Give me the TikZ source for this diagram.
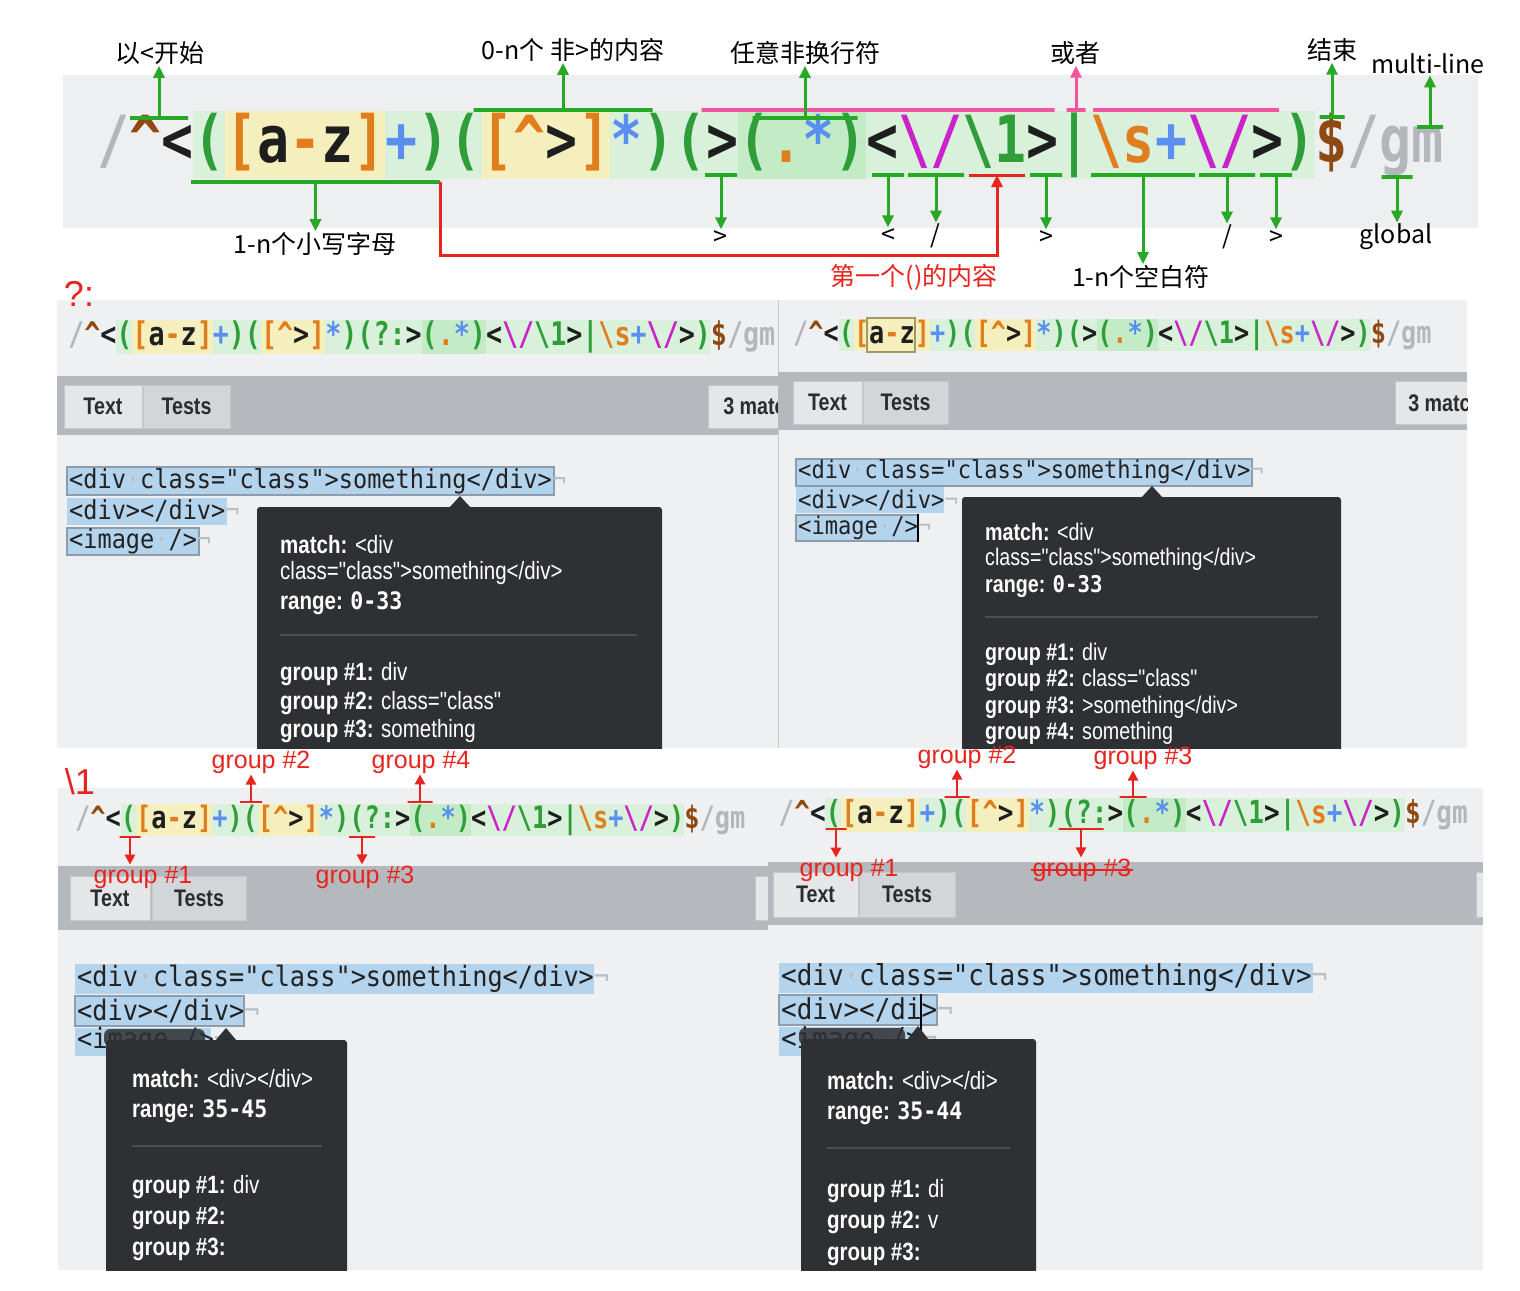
\documentclass[tikz,border=0pt]{standalone}
\usepackage{fontspec}
\setmainfont{Noto Sans CJK SC}
\newfontfamily\rxfont{DejaVu Sans Mono}[FakeStretch=0.82]
\newfontfamily\codefont{DejaVu Sans Mono}[FakeStretch=0.9]
\newfontfamily\uifont{Liberation Sans}[FakeStretch=0.82]
\newfontfamily\annfont{Liberation Sans}
\usetikzlibrary{arrows.meta, positioning, calc}

\definecolor{rxgreen}{HTML}{2F9E3A}
\definecolor{rxorange}{HTML}{E07E1E}
\definecolor{rxblue}{HTML}{5A8EF0}
\definecolor{rxmag}{HTML}{CC22CC}
\definecolor{rxbrown}{HTML}{8E4A12}
\definecolor{rxgray}{HTML}{B3B7BB}
\definecolor{rxink}{HTML}{1E1E1E}
\definecolor{rxlight}{HTML}{D9F1DA}
\definecolor{rxyellow}{HTML}{F5EFBD}
\definecolor{rxdark}{HTML}{C3ECC6}
\definecolor{anngreen}{HTML}{27A827}
\definecolor{annpink}{HTML}{F1559C}
\definecolor{annred}{HTML}{E8241E}
\definecolor{bandgray}{HTML}{EEEFF1}
\definecolor{panelbg}{HTML}{EFF0F2}
\definecolor{toolgray}{HTML}{B5B9BE}
\definecolor{tablight}{HTML}{E4E6E8}
\definecolor{tabmid}{HTML}{D3D6D9}
\definecolor{tabedge}{HTML}{C4C7CB}
\definecolor{tabink}{HTML}{2A2C2F}
\definecolor{codeblue}{HTML}{B4D4EE}
\definecolor{codeedge}{HTML}{8D9DAD}
\definecolor{codeink}{HTML}{222222}
\definecolor{dotgray}{HTML}{B9BEC3}
\definecolor{tipdark}{HTML}{2F3033}
\definecolor{tipline}{HTML}{4C4D51}
\definecolor{selolive}{HTML}{A39A62}

% colour helpers for the pattern
\newcommand\kgreen[1]{\textcolor{rxgreen}{#1}}
\newcommand\korange[1]{\textcolor{rxorange}{#1}}
\newcommand\kblue[1]{\textcolor{rxblue}{#1}}
\newcommand\kmag[1]{\textcolor{rxmag}{#1}}
\newcommand\kbrown[1]{\textcolor{rxbrown}{#1}}
\newcommand\kgray[1]{\textcolor{rxgray}{#1}}
\newcommand\regexplain{\kgray{/}\kbrown{\textasciicircum}<\kgreen{(}\korange{[}a\korange{-}z\korange{]}\kblue{+}\kgreen{)}\kgreen{(}\korange{[\textasciicircum}>\korange{]}\kblue{*}\kgreen{)}\kgreen{(}>\kgreen{(}\korange{.}\kblue{*}\kgreen{)}<\kmag{\textbackslash/}\kgreen{\textbackslash1}>\kgreen{|}\korange{\textbackslash s}\kblue{+}\kmag{\textbackslash/}>\kgreen{)}\kbrown{\$}\kgray{/gm}}
\newcommand\regexnc{\kgray{/}\kbrown{\textasciicircum}<\kgreen{(}\korange{[}a\korange{-}z\korange{]}\kblue{+}\kgreen{)}\kgreen{(}\korange{[\textasciicircum}>\korange{]}\kblue{*}\kgreen{)}\kgreen{(?:}>\kgreen{(}\korange{.}\kblue{*}\kgreen{)}<\kmag{\textbackslash/}\kgreen{\textbackslash1}>\kgreen{|}\korange{\textbackslash s}\kblue{+}\kmag{\textbackslash/}>\kgreen{)}\kbrown{\$}\kgray{/gm}}
\newcommand\wsdot{\textcolor{dotgray}{·}}
\newcommand\eolmark{\textcolor{dotgray}{¬}}

% #1 name, #2 x0, #3 y, #4 pitch, #5 font size, #6 end of group, #7 pattern
\newcommand\rxstrip[7]{%
  \begin{scope}[shift={(#2,#3)}, x=#4pt]
    \fill[rxlight] (3,-1.06*#4) rectangle (#6,1.06*#4);
    \fill[rxyellow] (4,-1.06*#4) rectangle (9,1.06*#4);
    \fill[rxyellow] (12,-1.06*#4) rectangle (16,1.06*#4);
    \fill[rxdark] (#6-18,-1.06*#4) rectangle (#6-14,1.06*#4);
    \node[anchor=west, inner sep=0pt, text=rxink,
      font=\rxfont\bfseries\fontsize{#5}{#5}\selectfont] (#1) at (0,0) {#7};
  \end{scope}}

\begin{document}
\begin{tikzpicture}[
    x=1pt, y=-1pt,
    >=Stealth,
    % labels
    lbl/.style={font=\fontsize{25}{27}\selectfont, inner sep=1pt, text=black},
    rlbl/.style={font=\fontsize{25}{27}\selectfont, inner sep=1pt, text=annred},
    glbl/.style={font=\annfont\fontsize{25}{27}\selectfont, inner sep=1pt, text=annred},
    % tee bars and their arrows
    gtee/.style={draw=anngreen, line width=3.4pt, inner sep=0pt, minimum height=0pt, outer sep=0pt},
    ptee/.style={gtee, draw=annpink},
    rtee/.style={gtee, draw=annred, line width=3pt},
    garrow/.style={draw=anngreen, line width=3pt, -{Triangle[length=12pt,width=11pt]}},
    parrow/.style={garrow, draw=annpink},
    rarrow/.style={draw=annred, line width=3pt, -{Triangle[length=12pt,width=11pt]}},
    grarrow/.style={draw=annred, line width=2.6pt, -{Triangle[length=10pt,width=10pt]}},
    % app chrome
    tabbox/.style={fill=tablight, draw=tabedge, line width=0.6pt, inner sep=0pt,
      font=\uifont\bfseries\fontsize{24}{26}\selectfont, text=tabink},
    codesel/.style={fill=codeblue, draw=codeedge, line width=2pt},
    codeline/.style={anchor=west, inner sep=0pt, text=codeink},
    tiprow/.style={anchor=west, inner sep=0pt, text=white},
    tipsep/.style={draw=tipline, line width=1.2pt}
]
\useasboundingbox (0,0) rectangle (1520,1290);
\fill[white] (0,0) rectangle (1520,1290);

% -----------------------------------------------------------
% TOP: annotated pattern
% -----------------------------------------------------------
\fill[bandgray] (63,75) rectangle (1478,228);
\rxstrip{rxtop}{97}{145}{32.05}{64.93}{38}{\regexplain}

\node[lbl] (lstart) at (160,53) {以<开始};
\node[lbl] (lnotgt) at (573,50) {0-n个 非>的内容};
\node[lbl] (lany) at (805,53) {任意非换行符};
\node[lbl] (lor) at (1075,53) {或者};
\node[lbl] (lend) at (1332,50) {结束};
\node[lbl] (lmulti) at (1428,64) {multi-line};

\node[gtee, minimum width=58pt] (tstart) at (159,118) {};
\node[gtee, minimum width=179pt] (tnotgt) at (563,110) {};
\node[gtee, minimum width=105pt] (tany) at (805,118) {};
\node[ptee, minimum width=353pt] (torl) at (878,110) {};
\node[ptee, minimum width=19pt] (tor) at (1076,110) {};
\node[ptee, minimum width=186pt] (torr) at (1186,110) {};
\node[gtee, minimum width=25pt] (tend) at (1332,117) {};
\node[gtee, minimum width=26pt] (tmulti) at (1430,127) {};

\draw[garrow] (tstart) -- (tstart |- lstart.south);
\draw[garrow] (tnotgt) -- (tnotgt |- lnotgt.south);
\draw[garrow] (tany) -- (tany |- lany.south);
\draw[parrow] (tor) -- (tor |- lor.south);
\draw[garrow] (tend) -- (tend |- lend.south);
\draw[garrow] (tmulti) -- (tmulti |- lmulti.south);

\node[gtee, minimum width=249pt] (tlower) at (315.5,182) {};
\node[gtee, minimum width=32pt] (tgt1) at (721,175) {};
\node[gtee, minimum width=32pt] (tlt) at (888,175) {};
\node[gtee, minimum width=56pt] (tsl1) at (936,175) {};
\node[rtee, minimum width=56pt] (tref) at (997,175) {};
\node[gtee, minimum width=32pt] (tgt2) at (1046,175) {};
\node[gtee, minimum width=104pt] (tspace) at (1143,175) {};
\node[gtee, minimum width=56pt] (tsl2) at (1227,175) {};
\node[gtee, minimum width=32pt] (tgt3) at (1276,175) {};
\node[gtee, minimum width=31pt] (tglobal) at (1397,177) {};

\node[lbl] (llower) at (315,244) {1-n个小写字母};
\node[lbl] (lgt1) at (720,238) {>};
\node[lbl] (llt) at (888,236) {<};
\node[lbl] (lsl1) at (935,236) {/};
\node[lbl] (lgt2) at (1046,238) {>};
\node[lbl] (lspace) at (1141,277) {1-n个空白符};
\node[lbl] (lsl2) at (1227,237) {/};
\node[lbl] (lgt3) at (1276,238) {>};
\node[lbl] (lglobal) at (1396,237) {global};
\node[rlbl] (lref) at (914,277) {第一个()的内容};

\draw[garrow] (tlower) -- (tlower |- llower.north);
\draw[garrow] (tgt1) -- (tgt1 |- lgt1.north);
\draw[garrow] (tlt) -- (tlt |- llt.north);
\draw[garrow] (tsl1) -- (tsl1 |- lsl1.north);
\draw[garrow] (tgt2) -- (tgt2 |- lgt2.north);
\draw[garrow] (tspace) -- (tspace |- lspace.north);
\draw[garrow] (tsl2) -- (tsl2 |- lsl2.north);
\draw[garrow] (tgt3) -- (tgt3 |- lgt3.north);
\draw[garrow] (tglobal) -- (tglobal |- lglobal.north);
\draw[rarrow] (tlower.east) -- ++(0,73) -| (tref);

% -----------------------------------------------------------
% PANEL A: non-capturing group
% -----------------------------------------------------------
\begin{scope}
\clip (57,300) rectangle (778,748);
\fill[panelbg] (57,300) rectangle (778,748);
\rxstrip{rxa}{68}{337}{16.07}{32.55}{40}{\regexnc}
\fill[toolgray] (57,376) rectangle (778,435);
\node[tabbox, minimum width=78pt, minimum height=43pt] (atext) at (103,406.5) {Text};
\node[tabbox, fill=tabmid, minimum width=87pt, minimum height=43pt] (atests) at (186.5,406.5) {Tests};
\node[tabbox, anchor=west, minimum height=43pt, inner xsep=15pt] (amatch) at (708,406.5) {3 matc};

\draw[codesel] (67,467) rectangle (554,495);
\fill[codeblue] (67,498) rectangle (227,525);
\draw[codesel] (67,528) rectangle (199,555);
\begin{scope}[every node/.style={codeline, font=\codefont\fontsize{26.2}{28}\selectfont}]
  \node (aline1) at (69,481) {<div\wsdot class="class">something</div>\eolmark};
  \node (aline2) at (69,511) {<div></div>\eolmark};
  \node (aline3) at (69,541) {<image\wsdot/>\eolmark};
\end{scope}

\fill[tipdark, rounded corners=3pt] (257,507) rectangle (662,770);
\fill[tipdark] (449,508) -- (460,496) -- (471,508) -- cycle;
\begin{scope}[every node/.style={tiprow, font=\uifont\fontsize{25}{27}\selectfont}]
  \node (atip1) at (280,545) {\textbf{match:} <div};
  \node (atip2) at (280,573) {class="class">something</div>};
  \node (atip3) at (280,603) {\textbf{range:} {\codefont\bfseries\fontsize{24}{26}\selectfont 0-33}};
  \node (atip4) at (280,674) {\textbf{group \#1:} div};
  \node (atip5) at (280,703) {\textbf{group \#2:} class="class"};
  \node (atip6) at (280,731) {\textbf{group \#3:} something};
\end{scope}
\draw[tipsep] (280,635) -- (637,635);
\end{scope}

% -----------------------------------------------------------
% PANEL B: capturing group
% -----------------------------------------------------------
\begin{scope}
\clip (778,300) rectangle (1467,748);
\fill[panelbg] (778,300) rectangle (1467,748);
\draw[tabedge, line width=1pt] (778,300) -- (778,748);
\rxstrip{rxb}{793}{335}{15.2}{30.79}{38}{\regexplain}
\draw[selolive, line width=2pt] (867,318) rectangle (915,352);
\fill[toolgray] (778,372) rectangle (1467,430);
\begin{scope}[every node/.append style={font=\uifont\bfseries\fontsize{22}{24}\selectfont}]
  \node[tabbox, minimum width=69pt, minimum height=43pt] (btext) at (827.5,402.5) {Text};
  \node[tabbox, fill=tabmid, minimum width=85pt, minimum height=43pt] (btests) at (905.5,402.5) {Tests};
  \node[tabbox, anchor=west, minimum height=43pt, inner xsep=13pt] (bmatch) at (1395,402.5) {3 match};
\end{scope}

\draw[codesel] (796,459) rectangle (1252,486);
\fill[codeblue] (796,487) rectangle (944,513);
\draw[codesel] (796,515) rectangle (918,541);
\draw[black, line width=1.5pt] (918,514) -- (918,542);
\begin{scope}[every node/.style={codeline, font=\codefont\fontsize{24.55}{26}\selectfont}]
  \node (bline1) at (798,472) {<div\wsdot class="class">something</div>\eolmark};
  \node (bline2) at (798,500) {<div></div>\eolmark};
  \node (bline3) at (798,528) {<image\wsdot/>\eolmark};
\end{scope}

\fill[tipdark, rounded corners=3pt] (962,497) rectangle (1341,770);
\fill[tipdark] (1141,498) -- (1152,486) -- (1163,498) -- cycle;
\begin{scope}[every node/.style={tiprow, font=\uifont\fontsize{24}{26}\selectfont}]
  \node (btip1) at (985,532) {\textbf{match:} <div};
  \node (btip2) at (985,559) {class="class">something</div>};
  \node (btip3) at (985,587) {\textbf{range:} {\codefont\bfseries\fontsize{23}{25}\selectfont 0-33}};
  \node (btip4) at (985,654) {\textbf{group \#1:} div};
  \node (btip5) at (985,680) {\textbf{group \#2:} class="class"};
  \node (btip6) at (985,707) {\textbf{group \#3:} >something</div>};
  \node (btip7) at (985,733) {\textbf{group \#4:} something};
\end{scope}
\draw[tipsep] (985,617) -- (1318,617);
\end{scope}

% -----------------------------------------------------------
% PANEL C: back reference, groups numbered
% -----------------------------------------------------------
\begin{scope}
\clip (58,788) rectangle (768,1270);
\fill[panelbg] (58,788) rectangle (768,1270);
\rxstrip{rxc}{75}{820}{15.23}{30.85}{40}{\regexnc}
\fill[toolgray] (58,866) rectangle (768,930);
\node[tabbox, minimum width=80pt, minimum height=44pt] (ctext) at (110,898) {Text};
\node[tabbox, fill=tabmid, minimum width=94pt, minimum height=44pt] (ctests) at (199,898) {Tests};
\node[tabbox, anchor=west, minimum width=50pt, minimum height=44pt] (cmatch) at (755,898) {};

\fill[codeblue] (75,964) rectangle (594,994);
\draw[codesel] (75,996) rectangle (244,1026);
\fill[codeblue] (75,1028) rectangle (211,1056);
\begin{scope}[every node/.style={codeline, font=\codefont\fontsize{28.05}{30}\selectfont}]
  \node (cline1) at (77,979) {<div\wsdot class="class">something</div>\eolmark};
  \node (cline2) at (77,1011) {<div></div>\eolmark};
  \node (cline3) at (77,1041) {<image\wsdot/>\eolmark};
\end{scope}

\fill[tipdark, opacity=0.85, rounded corners=6pt] (104,1029) rectangle (205,1046);
\fill[tipdark, rounded corners=3pt] (106,1040) rectangle (347,1300);
\fill[tipdark] (215,1041) -- (226,1028) -- (237,1041) -- cycle;
\begin{scope}[every node/.style={tiprow, font=\uifont\fontsize{25}{27}\selectfont}]
  \node (ctip1) at (132,1079) {\textbf{match:} <div></div>};
  \node (ctip2) at (132,1111) {\textbf{range:} {\codefont\bfseries\fontsize{24}{26}\selectfont 35-45}};
  \node (ctip3) at (132,1187) {\textbf{group \#1:} div};
  \node (ctip4) at (132,1218) {\textbf{group \#2:}};
  \node (ctip5) at (132,1249) {\textbf{group \#3:}};
\end{scope}
\draw[tipsep] (132,1146) -- (322,1146);
\end{scope}

\node[rtee, line width=2.6pt, minimum width=22pt] (cg2) at (251,802) {};
\node[rtee, line width=2.6pt, minimum width=25pt] (cg4) at (420,802) {};
\node[rtee, line width=2.6pt, minimum width=21pt] (cg1) at (130,837) {};
\node[rtee, line width=2.6pt, minimum width=26pt] (cg3) at (362,837) {};
\node[glbl] (lcg2) at (261,762) {group \#2};
\node[glbl] (lcg4) at (421,762) {group \#4};
\node[glbl] (lcg1) at (143,877) {group \#1};
\node[glbl] (lcg3) at (365,877) {group \#3};
\draw[grarrow] (cg2) -- (cg2 |- lcg2.south);
\draw[grarrow] (cg4) -- (cg4 |- lcg4.south);
\draw[grarrow] (cg1) -- (cg1 |- lcg1.north);
\draw[grarrow] (cg3) -- (cg3 |- lcg3.north);

% -----------------------------------------------------------
% PANEL D: back reference with (?:)
% -----------------------------------------------------------
\begin{scope}
\clip (768,788) rectangle (1483,1270);
\fill[panelbg] (768,788) rectangle (1483,1270);
\rxstrip{rxd}{778.5}{815}{15.66}{31.72}{40}{\regexnc}
\fill[toolgray] (768,862) rectangle (1483,925);
\node[tabbox, minimum width=85pt, minimum height=45pt] (dtext) at (815.5,894.5) {Text};
\node[tabbox, fill=tabmid, minimum width=96pt, minimum height=45pt] (dtests) at (907,894.5) {Tests};
\node[tabbox, anchor=west, minimum width=50pt, minimum height=45pt] (dmatch) at (1476,894.5) {};

\fill[codeblue] (779,963) rectangle (1313,993);
\draw[codesel] (779,995) rectangle (937,1025);
\fill[codeblue] (779,1027) rectangle (922,1056);
\begin{scope}[every node/.style={codeline, font=\codefont\fontsize{28.8}{30}\selectfont}]
  \node (dline1) at (781,978) {<div\wsdot class="class">something</div>\eolmark};
  \node (dline2) at (781,1010) {<div></di>\eolmark};
  \node (dline3) at (781,1041) {<image\wsdot/>\eolmark};
\end{scope}
\draw[black, line width=1.5pt] (921,994) -- (921,1036);

\fill[tipdark, opacity=0.85, rounded corners=6pt] (799,1028) rectangle (905,1045);
\fill[tipdark, rounded corners=3pt] (801,1039) rectangle (1036,1300);
\fill[tipdark] (907,1040) -- (918,1026) -- (929,1040) -- cycle;
\begin{scope}[every node/.style={tiprow, font=\uifont\fontsize{25}{27}\selectfont}]
  \node (dtip1) at (827,1081) {\textbf{match:} <div></di>};
  \node (dtip2) at (827,1113) {\textbf{range:} {\codefont\bfseries\fontsize{24}{26}\selectfont 35-44}};
  \node (dtip3) at (827,1191) {\textbf{group \#1:} di};
  \node (dtip4) at (827,1222) {\textbf{group \#2:} v};
  \node (dtip5) at (827,1254) {\textbf{group \#3:}};
\end{scope}
\draw[tipsep] (827,1148) -- (1010,1148);
\end{scope}

\node[rtee, line width=2.6pt, minimum width=25pt] (dg2) at (957,797) {};
\node[rtee, line width=2.6pt, minimum width=27pt] (dg3) at (1133,797) {};
\node[rtee, line width=2.6pt, minimum width=21pt] (dg1) at (836,829) {};
\node[rtee, line width=2.6pt, minimum width=45pt] (dgx) at (1081,829) {};
\node[glbl] (ldg2) at (967,757) {group \#2};
\node[glbl] (ldg3) at (1143,758) {group \#3};
\node[glbl] (ldg1) at (849,870) {group \#1};
\node[glbl] (ldgx) at (1082,870) {group \#3};
\draw[annred, line width=2.4pt] (ldgx.west) -- (ldgx.east);
\draw[grarrow] (dg2) -- (dg2 |- ldg2.south);
\draw[grarrow] (dg3) -- (dg3 |- ldg3.south);
\draw[grarrow] (dg1) -- (dg1 |- ldg1.north);
\draw[grarrow] (dgx) -- (dgx |- ldgx.north);

% section marks
\node[glbl, font=\annfont\fontsize{36}{38}\selectfont] (qcolon) at (79,294) {?:};
\node[glbl, font=\annfont\fontsize{36}{38}\selectfont] (backref) at (80,782) {\textbackslash1};

\end{tikzpicture}
\end{document}
